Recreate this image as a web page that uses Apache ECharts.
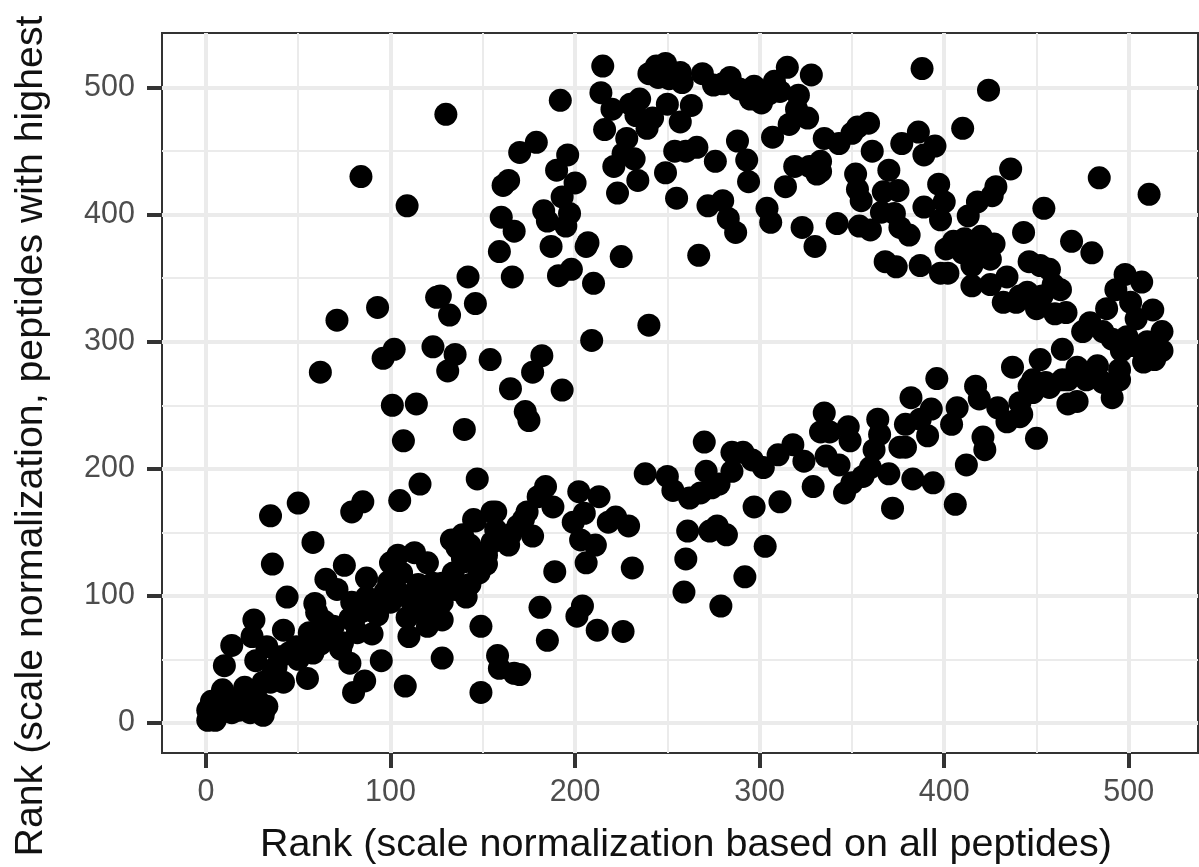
<!DOCTYPE html>
<html><head><meta charset="utf-8">
<script src="https://cdn.jsdelivr.net/npm/echarts@6/dist/echarts.min.js"></script>
<style>html,body{margin:0;padding:0;background:#fff}#c{width:1199px;height:867px}</style></head>
<body><div id="c"></div>
<script>
const xTicks = [0,100,200,300,400,500];
const yTicks = [0,100,200,300,400,500];
const xTitle = "Rank (scale normalization based on all peptides)";
const yTitle = "Rank (scale normalization, peptides with highest";
const upperLeft = [[84,430],[130,479],[109,407],[62,276],[71,317],[93,327],[96,287],[102,294],[101,250],[114,251],[107,222],[123,296],[125,335],[127,336],[132,321],[135,290],[131,277],[142,351],[146,330],[140,231],[154,286],[165,263],[173,245],[175,238],[177,276],[182,289],[193,262],[209,301],[210,346],[240,313],[225,367],[267,368],[179,457],[170,449],[196,447],[190,435],[200,425],[193,414],[197,401],[183,403],[185,395],[195,391],[160,398],[167,387],[161,423],[164,427],[159,371],[187,375],[207,378],[206,375],[198,357],[191,352],[166,351]];
const upperTop = [[215,517],[214,496],[192,490],[220,483],[216,467],[230,487],[235,491],[233,478],[239,468],[228,460],[242,476],[250,487],[263,486],[257,473],[266,453],[254,450],[260,450],[276,442],[249,433],[255,413],[272,407],[280,411],[283,397],[287,386],[288,458],[293,443],[294,426],[307,461],[304,405],[306,394],[314,422],[323,390],[330,375],[319,438],[331,432],[333,442],[335,460],[327,438],[328,510],[315,516],[321,494],[320,483],[326,476],[316,471],[308,505],[240,511],[244,517],[249,519],[245,508],[257,512],[251,507],[258,504],[269,511],[275,502],[284,508],[280,503],[289,499],[297,501],[295,491],[301,488],[305,495],[311,497],[223,417],[234,427],[221,438],[232,444],[226,448]];
const upperRight = [[342,393],[350,464],[353,469],[359,472],[361,450],[343,456],[352,432],[353,420],[355,411],[354,391],[360,388],[366,402],[370,435],[367,418],[375,419],[373,401],[376,390],[381,384],[368,363],[374,359],[387,360],[377,456],[386,465],[389,447],[395,454],[389,406],[397,424],[400,410],[398,396],[398,354],[402,354],[388,515],[424,498],[410,468],[436,436],[428,422],[426,415],[418,410],[413,399],[454,405],[443,386],[469,379],[480,370],[484,429],[511,416],[333,434],[405,379],[401,373],[411,381],[420,383],[427,377],[425,365],[415,360],[415,344],[425,345],[434,351],[410,370],[418,372]];
const denseBand = [[446,363],[452,360],[457,357],[463,341],[459,345],[432,331],[445,339],[450,326],[439,331],[441,336],[453,336],[460,322],[466,323],[475,308],[479,315],[488,326],[493,341],[498,353],[507,347],[501,331],[513,325],[504,318],[518,308],[518,293],[514,286],[508,284],[510,300],[499,304],[491,302],[486,308],[502,297],[496,293],[495,278],[495,270],[491,256],[483,281],[486,268],[472,280],[464,294],[452,286],[437,280],[464,270],[477,270],[472,253],[467,251],[457,264],[448,270],[448,260],[441,252],[441,241],[434,237],[429,248],[450,224],[446,265],[455,268],[467,270],[442,243]];
const lowerRight = [[396,271],[417,265],[419,255],[421,225],[422,215],[412,203],[406,172],[394,189],[383,192],[372,169],[382,256],[379,235],[387,239],[379,217],[376,217],[393,247],[391,226],[407,248],[404,235],[364,239],[365,227],[362,215],[360,201],[370,196],[356,194],[350,189],[346,181],[335,244],[333,229],[338,229],[348,233],[349,222],[343,203],[336,210],[324,206],[318,219],[310,211],[329,186],[311,174],[302,201],[297,170],[296,207],[291,213],[285,213],[285,198],[270,221],[271,198],[303,139],[292,115],[279,92],[259,103],[260,129],[261,151],[273,151],[277,155],[282,148],[262,177],[268,181],[274,185],[278,188],[238,196],[250,194],[253,183]];
const lowerMid = [[231,122],[229,155],[222,162],[218,158],[213,178],[202,182],[205,165],[199,158],[203,144],[211,140],[206,126],[189,119],[184,186],[180,178],[188,170],[174,166],[172,160],[177,147],[169,155],[165,148],[164,140],[157,166],[157,152],[146,159],[147,192],[152,132],[152,125],[139,148],[133,144],[143,140],[136,138],[140,127],[143,109],[204,92],[201,84],[212,73],[226,72],[185,65],[181,91],[170,38],[167,39],[158,53],[159,43],[149,76],[149,24],[128,51],[108,29],[95,49],[86,33],[80,24],[78,47]];
const lowerLeft = [[35,163],[50,173],[79,166],[85,174],[105,175],[116,188],[58,142],[36,125],[44,99],[26,81],[25,68],[14,61],[10,45],[27,49],[33,60],[42,73],[42,32],[38,44],[55,35],[75,124],[65,113],[59,94],[60,87],[71,105],[87,114],[79,95],[87,99],[93,85],[100,126],[104,132],[113,134],[120,126],[99,111],[106,118],[115,109],[123,110],[134,118],[141,99],[128,81],[120,76],[110,68],[109,83],[118,89],[127,99],[135,143],[139,129],[145,160],[155,166],[151,125],[155,142],[56,71],[49,60],[58,55],[65,65],[74,63],[69,76],[82,71],[73,58],[64,80],[78,82],[90,70],[100,95],[108,100],[132,105],[148,118],[1,2],[5,2],[1,10],[3,17],[9,26],[11,13],[18,10],[21,28],[28,18],[31,6],[33,13],[35,32],[24,8],[14,8],[8,8],[31,32],[16,18],[6,16],[22,22]];
const lowerFill = [[50,50],[45,55],[60,70],[52,58],[68,70],[80,80],[62,62],[85,88],[92,93],[97,103],[103,105],[112,95],[120,100],[128,95],[135,105],[148,130],[145,135],[128,110],[40,52],[20,18],[26,25],[36,38]];
const points = [].concat(upperLeft, upperTop, upperRight, denseBand, lowerRight, lowerMid, lowerLeft, lowerFill);

const FONT = '"Liberation Sans", Arial, sans-serif';
function axisCommon(ticks, margin){
  return {
    type:'value', splitNumber:6,
    axisLine:{show:false, onZero:false},
    axisTick:{show:true, length:15, lineStyle:{color:'#333', width:4}, customValues:ticks},
    axisLabel:{color:'#4d4d4d', fontSize:30.5, fontFamily:FONT, margin:margin, customValues:ticks},
    splitLine:{show:true, lineStyle:{color:'#ebebeb', width:4}},
    minorTick:{show:false, splitNumber:2},
    minorSplitLine:{show:true, lineStyle:{color:'#ebebeb', width:2}},
  };
}
const chart = echarts.init(document.getElementById('c'), null, {renderer:'canvas'});
chart.setOption({
  animation:false, backgroundColor:'#fff',
  grid:{left:162, top:33, right:1, bottom:114, show:true, borderColor:'#333', borderWidth:2, backgroundColor:'transparent', outerBoundsMode:'none'},
  xAxis:Object.assign(axisCommon(xTicks,24),{min:-23.8,max:537.5,name:xTitle,nameLocation:'middle',nameGap:72,
    nameTextStyle:{color:'#111', fontSize:39.5, fontFamily:FONT, padding:[0,0,0,12]}}),
  yAxis:Object.assign(axisCommon(yTicks,27),{min:-23.7,max:543,name:yTitle,nameLocation:'middle',nameGap:111,
    nameTextStyle:{color:'#111', fontSize:39.3, fontFamily:FONT, padding:[0,86,0,0]}}),
  series:[{type:'scatter',data:points,symbol:'circle',symbolSize:23,itemStyle:{color:'#000',opacity:1},clip:false}]
});
</script></body></html>
